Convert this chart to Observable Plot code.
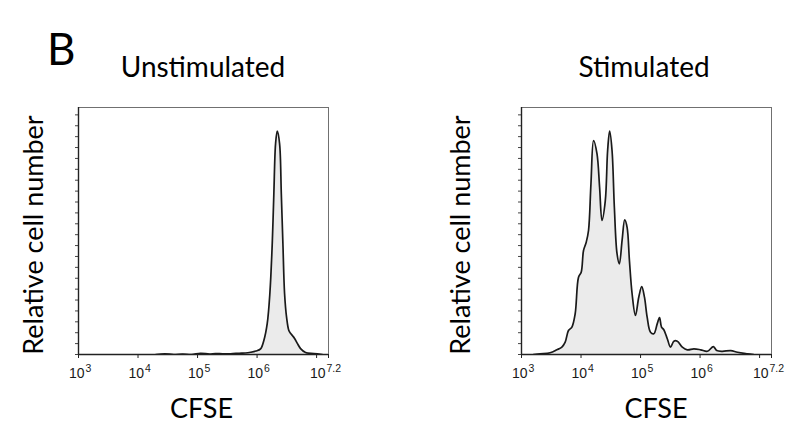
<!DOCTYPE html>
<html><head><meta charset="utf-8">
<script src="https://cdn.jsdelivr.net/npm/d3@7"></script>
<script src="https://cdn.jsdelivr.net/npm/@observablehq/plot@0.6"></script>
<style>
html,body{margin:0;padding:0;background:#fff;}
#root{position:relative;width:788px;height:446px;overflow:hidden;background:#fff;}
.panel{position:absolute;}
#overlay{position:absolute;left:0;top:0;pointer-events:none;}
</style></head><body><div id="root"></div>
<script>
// ---- data ----
const figureLetter = "B";
const panelTitles = ["Unstimulated", "Stimulated"];
const yLabel = "Relative cell number";
const xLabel = "CFSE";
// x tick positions as log10(CFSE)
const xTickExponents = [3, 4, 5, 6, 7, 7.2];
const xLabelExponents = [3, 4, 5, 6];
const xLabelExponentTexts = ["3", "4", "5", "6"];
const xEdgeExponents = [7.2];
const xEdgeExponentTexts = ["7.2"];
const yMinorTickCount = 23;
const yMinorTickStep = 4.41;

// Unstimulated histogram: log10(CFSE) and relative count
const unstimLogCFSE = [4.30,4.45,4.60,4.75,4.90,5.05,5.20,5.30,5.42,5.555,5.70,5.80,5.891,5.98,6.059,6.114,6.171,6.215,6.255,6.282,6.311,6.339,6.378,6.407,6.434,6.462,6.496,6.534,6.565,6.592,6.630,6.676,6.731,6.815,6.955,7.096];
const unstimCount = [0,0.3,0,0.2,0,0.5,0.2,0.4,0.3,0.3,0.5,0.6,0.9,1.4,2.3,5.7,12.6,24.7,44.9,65.2,85.4,90.4,85.4,65.2,44.9,24.7,15.0,9.7,8.5,7.7,6.5,4.5,2.4,0.8,0.4,0];

// Stimulated histogram
const stimLogCFSE = [3.20,3.312,3.481,3.594,3.678,3.734,3.789,3.847,3.902,3.958,4.003,4.042,4.088,4.126,4.167,4.211,4.268,4.312,4.352,4.408,4.447,4.481,4.521,4.560,4.605,4.644,4.690,4.734,4.774,4.813,4.858,4.914,4.970,5.020,5.066,5.111,5.167,5.223,5.280,5.319,5.352,5.391,5.449,5.504,5.560,5.617,5.702,5.786,5.897,6.010,6.123,6.224,6.280,6.376,6.516,6.629,6.798,6.90];
const stimCount = [0,0.3,0.7,1.9,3.0,5.0,9.7,11.1,16.5,31.3,33.3,42.1,45.5,50.2,69.1,86.6,81.3,67.7,54.3,62.3,82.6,90.4,82.6,59.6,40.8,36.7,46.2,54.5,51.5,38.1,24.6,15.8,23.2,27.5,23.2,15.1,9.0,8.4,12.4,14.9,11.1,10.0,6.4,3.0,5.4,5.4,3.0,1.9,2.3,1.9,1.3,3.2,1.6,1.3,1.6,0.9,0.3,0];

// ---- drawing ----
const yTicks = d3.range(yMinorTickCount).map(k => k * yMinorTickStep);
const tickFont = "'Liberation Sans', Arial, sans-serif";

function panel(xs, ys) {
  const data = xs.map((x, i) => ({x, y: ys[i]}));
  const labs = xLabelExponents.map((x, i) => ({x, t: xLabelExponentTexts[i]}));
  const edge = xEdgeExponents.map((x, i) => ({x, t: xEdgeExponentTexts[i]}));
  return Plot.plot({
    width: 290, height: 300,
    marginLeft: 10, marginRight: 30, marginTop: 5, marginBottom: 48,
    x: {domain: [3, 7.2], axis: null},
    y: {domain: [0, 100], axis: null},
    style: {background: "transparent", overflow: "visible"},
    marks: [
      Plot.areaY(data, {x: "x", y: "y", fill: "#ebebeb", curve: "catmull-rom", clip: true}),
      Plot.lineY(data, {x: "x", y: "y", stroke: "#1a1a1a", strokeWidth: 1.7, curve: "catmull-rom", clip: true}),
      Plot.frame({stroke: "#707070"}),
      Plot.axisX({ticks: xTickExponents, tickFormat: () => "", tickSize: 4, stroke: "#222", label: null}),
      Plot.axisY({ticks: yTicks, tickFormat: () => "", tickSize: 3, stroke: "#444", label: null}),
      Plot.ruleY([0], {stroke: "#222", strokeWidth: 1.4}),
      Plot.ruleX([3], {stroke: "#222", strokeWidth: 1.4}),
      Plot.text(labs, {x: "x", text: () => "10", frameAnchor: "bottom", lineAnchor: "bottom", textAnchor: "end", dx: 6, dy: 23, fontSize: 14, fill: "#1a1a1a", fontFamily: tickFont}),
      Plot.text(labs, {x: "x", text: "t", frameAnchor: "bottom", lineAnchor: "bottom", textAnchor: "start", dx: 7, dy: 17, fontSize: 10.5, fill: "#1a1a1a", fontFamily: tickFont}),
      Plot.text(edge, {x: "x", text: () => "10", frameAnchor: "bottom", lineAnchor: "bottom", textAnchor: "end", dx: -3, dy: 23, fontSize: 14, fill: "#1a1a1a", fontFamily: tickFont}),
      Plot.text(edge, {x: "x", text: "t", frameAnchor: "bottom", lineAnchor: "bottom", textAnchor: "start", dx: -2, dy: 17, fontSize: 10.5, fill: "#1a1a1a", fontFamily: tickFont})
    ]
  });
}

const root = document.getElementById("root");
const p1 = panel(unstimLogCFSE, unstimCount);
p1.classList.add("panel"); p1.style.left = "68px"; p1.style.top = "102px";
root.appendChild(p1);
const p2 = panel(stimLogCFSE, stimCount);
p2.classList.add("panel"); p2.style.left = "511px"; p2.style.top = "102px";
root.appendChild(p2);

// overlay text
const ns = "http://www.w3.org/2000/svg";
const ov = document.createElementNS(ns, "svg");
ov.setAttribute("id", "overlay");
ov.setAttribute("width", 788); ov.setAttribute("height", 446);
root.appendChild(ov);
const labelFont = "Lato, 'Open Sans', sans-serif";
function addText(str, x, y, size, anchor, rotate) {
  const t = document.createElementNS(ns, "text");
  t.textContent = str;
  t.setAttribute("font-family", labelFont);
  t.setAttribute("font-size", size);
  t.setAttribute("fill", "#000");
  t.setAttribute("text-anchor", anchor);
  if (rotate) t.setAttribute("transform", `translate(${x},${y}) rotate(-90)`);
  else { t.setAttribute("x", x); t.setAttribute("y", y); }
  ov.appendChild(t);
}
addText(figureLetter, 47, 65, 44, "start");
addText(panelTitles[0], 203, 77, 28, "middle");
addText(panelTitles[1], 644, 77, 28, "middle");
addText(yLabel, 43, 235, 27, "middle", true);
addText(yLabel, 470, 235, 27, "middle", true);
addText(xLabel, 201.5, 418, 27, "middle");
addText(xLabel, 656, 418, 27, "middle");
</script></body></html>
